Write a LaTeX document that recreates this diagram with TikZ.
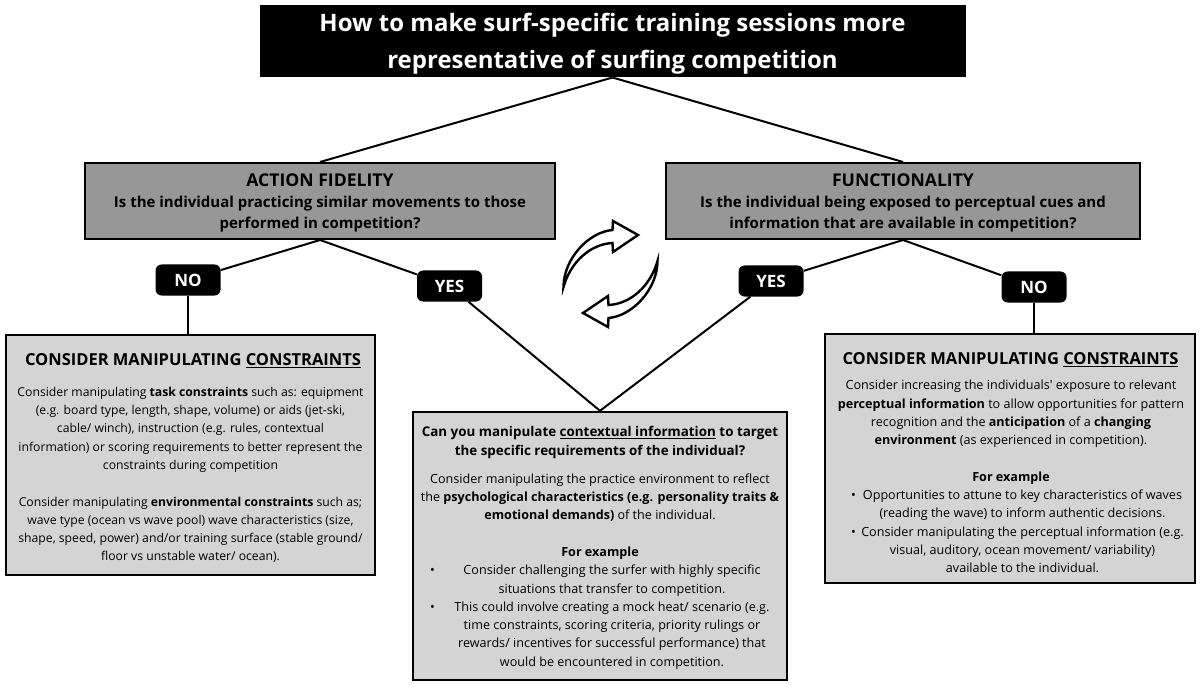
\documentclass[tikz,border=0pt]{standalone}
\usepackage{fontspec}
\setmainfont{Open Sans}
\definecolor{hdrgray}{HTML}{979797}
\definecolor{boxgray}{HTML}{D4D4D4}
\newcommand{\brow}[4]{\makebox[#1][l]{\hspace*{#2}\makebox[#3][l]{\textbullet}\makebox[\dimexpr#1-#2-#3\relax]{#4}}}
\newcommand{\crow}[4]{\makebox[#1][l]{\hspace*{\dimexpr#2+#3\relax}\makebox[\dimexpr#1-#2-#3\relax]{#4}}}
\begin{document}
\begin{tikzpicture}[x=1pt,y=-1pt,
  titlebox/.style={draw=black, fill=black, line width=1pt, inner sep=0pt},
  qbox/.style={draw=black, fill=hdrgray, line width=2pt, inner sep=0pt},
  ibox/.style={draw=black, fill=boxgray, line width=2.4pt, inner sep=0pt},
  lab/.style={fill=black, rounded corners=6pt, text=white, font=\fontsize{17}{20}\selectfont\bfseries, minimum width=65pt, minimum height=31pt, inner sep=0pt},
  conn/.style={line width=2pt, black},
  txt/.style={inner sep=0pt, align=center},
  qhead/.style={txt, font=\fontsize{17.6}{20}\selectfont\bfseries},
  qtext/.style={txt, font=\fontsize{15}{21}\selectfont\bfseries},
  bhead/.style={txt, anchor=base, font=\fontsize{16.5}{20}\selectfont\bfseries},
  btext/.style={txt, anchor=north, font=\fontsize{12.6}{18.3}\selectfont},
  cycarrow/.pic={\draw[line width=2.4pt, fill=white, line join=miter]
     (-47,13) .. controls (-47,-15) and (-22,-42) .. (2,-44)
     -- (2.5,-53) -- (27.5,-39) -- (2.5,-22) -- (2,-31)
     .. controls (-20,-30) and (-40,-12) .. cycle;},
]
\useasboundingbox (0,0) rectangle (1200,687);
\fill[white] (0,0) rectangle (1200,687);

% boxes
\node[titlebox, minimum width=705pt, minimum height=71pt] (title) at (612.5,41.5) {};
\node[qbox, minimum width=470pt, minimum height=76pt] (act) at (320,201) {};
\node[qbox, minimum width=474pt, minimum height=76pt] (func) at (903,201) {};
\node[ibox, minimum width=369pt, minimum height=240pt] (lbox) at (190.5,455) {};
\node[ibox, minimum width=374pt, minimum height=268pt] (mbox) at (600,546) {};
\node[ibox, minimum width=370pt, minimum height=249pt] (rbox) at (1010,458.5) {};

% labels
\node[lab] (no1) at (188,280) {NO};
\node[lab] (yes1) at (449.5,286) {YES};
\node[lab] (yes2) at (771,281) {YES};
\node[lab] (no2) at (1034,287) {NO};

% connectors
\draw[conn] (title.south) -- (act.north);
\draw[conn] (title.south) -- (func.north);
\draw[conn] (act.south) -- (no1);
\draw[conn] (act.south) -- (yes1);
\draw[conn] (func.south) -- (yes2);
\draw[conn] (func.south) -- (no2);
\draw[conn] (no1.south) -- (no1.south |- lbox.north);
\draw[conn] (no2.south) -- (no2.south |- rbox.north);
\draw[conn] (yes1) -- (mbox.north);
\draw[conn] (yes2) -- (mbox.north);

% cycle arrows
\pic at (610.5,274) {cycarrow};
\pic[rotate=180] at (610.5,274) {cycarrow};

% title text
\node[txt, text=white, font=\fontsize{24}{37}\selectfont\bfseries] (titletext) at (612.5,44)
  {How to make surf-specific training sessions more\\representative of surfing competition};

% action fidelity
\node[qhead] (acth) at (320,180) {ACTION FIDELITY};
\node[qtext] (actq) at (320,214) {Is the individual practicing similar movements to those\\performed in competition?};

% functionality
\node[qhead] (funch) at (903,180) {FUNCTIONALITY};
\node[qtext] (funcq) at (903,214) {Is the individual being exposed to perceptual cues and\\information that are available in competition?};

% left box
\node[bhead] (lhead) at (193,365.7) {CONSIDER MANIPULATING \underline{CONSTRAINTS}};
\node[btext, font=\fontsize{12.2}{18.3}\selectfont] (ltext) at (190.5,383.2) {\strut Consider manipulating \textbf{task constraints} such as: equipment\\
(e.g. board type, length, shape, volume) or aids (jet-ski,\\
cable/ winch), instruction (e.g. rules, contextual\\
information) or scoring requirements to better represent the\\
constraints during competition\\[18.3pt]
Consider manipulating \textbf{environmental constraints} such as;\\
wave type (ocean vs wave pool) wave characteristics (size,\\
shape, speed, power) and/or training surface (stable ground/\\
floor vs unstable water/ ocean).};

% middle box
\node[btext, font=\fontsize{13.4}{19}\selectfont\bfseries] (mhead) at (600,423) {\strut Can you manipulate \underline{contextual information} to target\\
the specific requirements of the individual?};
\node[btext] (mtext) at (600,470.2) {\strut Consider manipulating the practice environment to reflect\\
the \textbf{psychological characteristics (e.g. personality traits \&}\\
\textbf{emotional demands)} of the individual.\\[18.3pt]
\textbf{For example}\\
\brow{340pt}{0pt}{24pt}{Consider challenging the surfer with highly specific}\\
\crow{340pt}{0pt}{24pt}{situations that transfer to competition.}\\
\brow{340pt}{0pt}{24pt}{This could involve creating a mock heat/ scenario (e.g.}\\
\crow{340pt}{0pt}{24pt}{time constraints, scoring criteria, priority rulings or}\\
\crow{340pt}{0pt}{24pt}{rewards/ incentives for successful performance) that}\\
\crow{340pt}{0pt}{24pt}{would be encountered in competition.}};

% right box
\node[bhead] (rhead) at (1010.5,364.7) {CONSIDER MANIPULATING \underline{CONSTRAINTS}};
\node[btext] (rtext) at (1011,376.7) {\strut Consider increasing the individuals\textquotesingle{} exposure to relevant\\
\textbf{perceptual information} to allow opportunities for pattern\\
recognition and the \textbf{anticipation} of a \textbf{changing}\\
\textbf{environment} (as experienced in competition).\\[18.3pt]
\textbf{For example}\\
\brow{350pt}{15pt}{8pt}{Opportunities to attune to key characteristics of waves}\\
\crow{350pt}{15pt}{8pt}{(reading the wave) to inform authentic decisions.}\\
\brow{350pt}{15pt}{8pt}{Consider manipulating the perceptual information (e.g.}\\
\crow{350pt}{15pt}{8pt}{visual, auditory, ocean movement/ variability)}\\
\crow{350pt}{15pt}{8pt}{available to the individual.}};
\end{tikzpicture}
\end{document}
